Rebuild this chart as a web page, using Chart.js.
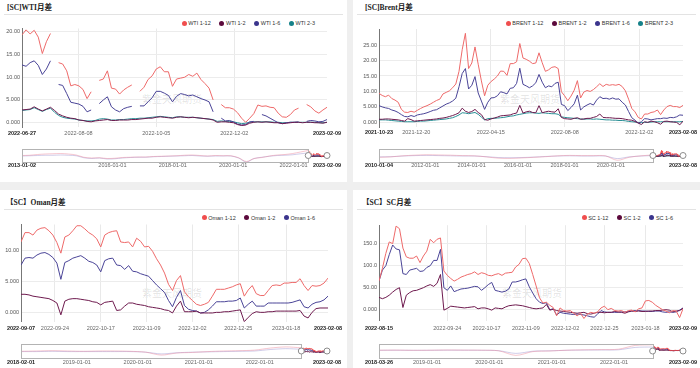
<!DOCTYPE html>
<html>
<head>
<meta charset="utf-8">
<script src="https://cdn.jsdelivr.net/npm/chart.js@4.4.0/dist/chart.umd.min.js"></script>
<style>
  html, body { margin: 0; padding: 0; width: 700px; height: 368px; overflow: hidden; background: #efefef; }
  .panel { position: absolute; background: #fff; overflow: hidden; }
  .title { position: absolute; left: 4px; right: 4px; height: 13px; line-height: 13px; border-bottom: 1px solid #e3e3e3;
           font: bold 7.5px "Liberation Serif", "Noto Sans CJK SC", serif; color: #222; white-space: nowrap; }
  .legend { position: absolute; }
  .legend ul { list-style: none; margin: 0; padding: 0; display: flex; gap: 8.7px; }
  .legend li { display: flex; align-items: center; font: 5.5px "Liberation Sans", Arial, sans-serif; color: #333; white-space: nowrap; }
  .legend-dot { width: 5px; height: 5px; border-radius: 50%; margin-right: 1.5px; }
  .wm { position: absolute; font: 10px "Noto Sans CJK SC", sans-serif; color: rgba(0,0,0,0.12); z-index: 0; }
  canvas { position: absolute; z-index: 1; }
</style>
</head>
<body>
<script>
const FONT = '"Liberation Sans", Arial, sans-serif';

// ---------- [SC]WTI ----------
const wtiTicks = ["2022-06-27", "2022-08-08", "2022-10-05", "2022-12-02", "2023-02-09"];
const wtiSliderTicks = ["2013-01-02", "2016-01-01", "2018-01-01", "2020-01-01", "2022-01-01", "2023-02-09"];
const wtiYTicks = [0, 5, 10, 15, 20];
const wtiNames = ["WTI 1-12", "WTI 1-2", "WTI 1-6", "WTI 2-3"];
const wti112 = [19.3, 20.4, 19.5, 20.3, 18.8, 15.2, 17.8, 19.6, null, 13.2,
  12.9, 11.4, 8.1, 8.4, 8.1, 7.3, 5.3, 6.8, null, 9.3,
  9.6, 11.4, 7.6, 7.4, 6.3, 7.2, 7.8, 8.3, null, 6.9,
  7.8, 9.5, 10.3, 11.8, 12.3, 11.2, 11.2, 8.0, 9.6, 9.8,
  10.0, 10.6, 10.2, 10.9, 9.5, 8.6, 7.6, 5.0, null, 4.0,
  3.3, 3.3, 3.0, 2.2, 1.0, 0.1, 1.0, 2.0, 3.9, 3.6,
  3.7, 3.4, 3.3, 2.1, 1.3, 1.2, 1.8, 2.8, 3.2, null,
  4.0, 3.5, 2.6, 2.1, 2.8, 3.4];
const wti12 = [2.8, 2.9, 3.0, 3.5, 3.0, 2.6, 3.0, 3.4, 2.7, 1.9,
  1.5, 1.2, 1.0, 0.9, 0.6, 0.5, 0.3, 0.2, 0.4, 0.5,
  0.6, 0.7, 0.5, 0.5, 0.6, 0.6, 0.6, 0.7, 0.7, 0.8,
  0.9, 1.0, 1.0, 1.2, 1.3, 1.2, 1.1, 1.0, 1.2, 1.3,
  1.2, 1.1, 1.2, 1.1, 1.0, 0.9, 0.8, 0.6, 0.1, 0.2,
  0.2, 0.1, 0.0, -0.4, -0.6, -0.5, -0.1, 0.1, 0.2, 0.1,
  0.2, 0.1, 0.0, 0.0, -0.2, -0.1, 0.0, 0.1, 0.1, 0.0,
  0.1, 0.1, 0.0, 0.0, -0.1, 0.1];
const wti16 = [12.7, 12.4, 13.2, 13.6, 12.6, 10.6, 11.8, 13.6, null, 8.4,
  8.2, 6.4, 4.5, 4.3, 4.1, 3.6, 2.4, 2.8, null, 4.2,
  5.0, 5.7, 3.5, 2.8, 2.4, 3.1, 3.4, 3.6, null, 3.7,
  3.7, 4.6, 5.5, 6.9, 6.9, 6.5, 6.0, 4.6, 5.8, 6.4,
  6.2, 5.9, 6.1, 5.7, 5.3, 5.0, 4.6, 2.4, null, 1.0,
  0.4, 0.5, 0.2, -0.3, -0.5, -0.4, 0.2, 0.3, null, 1.8,
  1.5, 1.0, 0.5, 0.0, -0.2, 0.0, 0.1, 0.1, 0.2, null,
  0.3, 0.5, 0.4, 0.2, 0.3, 0.7];
const wti23 = [2.7, 2.8, 2.9, 3.3, 2.9, 2.5, 2.9, 3.2, 2.3, 1.6,
  1.2, 1.0, 0.9, 0.8, 0.6, 0.5, 0.4, 0.4, 0.5, 0.8,
  0.9, 0.8, 0.6, 0.6, 0.7, 0.7, 0.8, 0.9, 0.9, 1.0,
  1.0, 1.1, 1.2, 1.3, 1.4, 1.3, 1.2, 1.1, 1.3, 1.3,
  1.2, 1.2, 1.2, 1.1, 1.0, 0.9, 0.8, 0.7, 0.3, 0.4,
  0.3, 0.3, 0.2, 0.0, -0.2, -0.1, 0.1, 0.2, 0.2, 0.2,
  0.2, 0.2, 0.1, 0.1, 0.0, 0.0, 0.1, 0.1, 0.1, 0.1,
  0.1, 0.1, 0.1, 0.0, 0.0, 0.1];
const wtiHist112 = [4, 5, 8, 10, 11, 12, 10, 6, -3, -6, -5, -8, -7, -4, -3, -2, -2, 0, 1, 2,
  3, 5, 6, 4, 2, 4, 3, 3, -5, -20, -8, -4, 2, 6, 8, 12, 18, 24];
const wtiHist16 = [2, 3, 4, 5, 5, 6, 5, 3, -5, -8, -6, -10, -9, -6, -4, -3, -3, -1, 0, 1,
  2, 3, 4, 2, 1, 2, 2, 2, -6, -23, -8, -3, 1, 4, 5, 7, 11, 14];

// ---------- [SC]Brent ----------
const brentTicks = ["2021-10-23", "2021-12-20", "2022-04-15", "2022-08-08", "2022-12-02", "2023-02-08"];
const brentSliderTicks = ["2010-01-04", "2012-01-01", "2014-01-01", "2016-01-01", "2018-01-01", "2020-01-01", "2023-02-08"];
const brentYTicks = [0, 5, 10, 15, 20, 25];
const brentNames = ["BRENT 1-12", "BRENT 1-2", "BRENT 1-6", "BRENT 2-3"];
const brent112 = [9.4, 8.7, 8.3, 8.8, 7.7, 7.2, 6.5, 4.2, 3.3, 3.2,
  3.6, 3.3, 3.9, 4.5, 5.0, 5.4, 5.9, 6.5, 7.1, 7.5,
  9.2, 9.7, 10.2, 11.2, 12.4, 16.5, 23.5, 28.8, 17.4, 19.2,
  24.4, 18.8, 13.4, 8.6, 12.0, 13.2, 14.0, 15.0, 16.6, 16.5,
  15.2, 19.0, 19.0, 19.6, 25.5, 20.8, 20.4, 19.8, 19.0, 19.2,
  22.5, 19.3, 16.5, 17.0, 17.8, 18.0, 17.4, 9.9, 8.6, 7.0,
  8.5, 10.4, 13.5, 7.9, 9.8, 10.3, 10.0, 10.6, 11.5, 12.5,
  11.6, 12.3, 12.0, 12.2, 12.0, 12.3, 11.6, 10.2, 7.5, 4.5,
  3.4, 1.6, 1.1, 2.7, 2.7, 3.2, 3.4, 4.0, 2.5, 4.0,
  5.1, 5.5, 5.1, 5.1, 4.8, 5.5];
const brent12 = [1.0, 1.0, 1.1, 1.1, 1.0, 0.9, 0.8, 0.6, 0.4, 1.2,
  0.9, 0.4, 0.5, 0.6, 0.7, 0.8, 0.9, 1.0, 1.1, 1.3,
  1.4, 1.6, 1.9, 2.2, 2.6, 3.1, 4.6, 3.6, 3.2, 3.5,
  4.2, 3.2, 2.5, 0.9, 0.7, 1.1, 1.4, 1.7, 2.1, 2.2,
  2.3, 2.4, 2.8, 3.0, 5.5, 3.0, 3.4, 3.6, 3.2, 3.1,
  5.4, 3.1, 3.4, 3.6, 3.4, 3.3, 4.4, 1.6, 1.2, 1.1,
  1.0, 1.3, 1.5, 1.0, 1.1, 1.3, 1.3, 1.6, 1.9, 2.7,
  1.6, 1.5, 1.5, 1.4, 1.3, 1.3, 1.2, 1.0, 0.8, 0.7,
  0.3, -0.2, -0.7, 0.2, 0.0, 0.4, 0.2, -0.1, -0.6, 0.3,
  0.4, 0.2, 0.1, 0.0, -0.8, 0.4];
const brent16 = [5.4, 5.0, 4.7, 4.5, 4.0, 3.7, 3.2, 2.5, 1.9, 1.8,
  2.2, 1.9, 2.4, 2.6, 2.8, 3.1, 3.5, 3.9, 4.1, 4.7,
  5.3, 5.9, 6.3, 6.9, 7.8, 11.5, 15.8, 17.4, 10.8, 12.0,
  14.8, 9.5, 6.9, 4.2, 6.5, 7.9, 8.0, 8.6, 9.9, 9.6,
  9.2, 11.0, 11.2, 12.6, 17.5, 12.3, 11.8, 11.2, 11.8, 12.8,
  15.5, 13.0, 11.2, 11.8, 11.5, 12.6, 13.0, 5.8, 5.4, 3.8,
  4.8, 6.0, 8.8, 4.0, 5.0, 5.6, 6.1, 5.6, 7.2, 8.3,
  7.7, 7.8, 7.5, 7.9, 7.5, 7.6, 6.5, 5.6, 3.5, 1.5,
  0.7, -0.3, 0.2, 1.2, 1.1, 0.8, 1.0, 1.2, 1.2, 1.4,
  1.3, 1.6, 1.5, 1.8, 2.4, 2.3];
const brent23 = [0.8, 0.8, 0.8, 0.7, 0.6, 0.5, 0.4, 0.3, 0.2, 0.2,
  0.2, 0.2, 0.3, 0.4, 0.4, 0.5, 0.6, 0.7, 0.8, 0.9,
  1.0, 1.1, 1.3, 1.5, 1.9, 2.4, 3.1, 3.0, 2.8, 3.0,
  3.2, 2.6, 1.7, 0.8, 1.2, 1.3, 1.3, 1.4, 1.5, 1.6,
  1.8, 2.0, 2.1, 2.4, 2.6, 2.8, 3.0, 3.1, 3.1, 3.0,
  2.9, 3.1, 3.0, 2.9, 2.8, 2.8, 2.6, 1.8, 1.6, 1.5,
  1.4, 1.3, 1.2, 1.1, 1.0, 1.1, 1.1, 1.0, 1.1, 1.0,
  0.9, 0.8, 0.8, 0.7, 0.7, 0.6, 0.6, 0.5, 0.3, 0.2,
  0.1, 0.0, -0.1, 0.0, 0.0, 0.1, 0.2, 0.2, 0.2, 0.2,
  0.2, 0.2, 0.2, 0.2, 0.2, 0.3];
const brentHist112 = [-4, -2, 3, 6, 8, 7, 6, 4, 3, -2, -8, -9, -7, -4, -1, 3, 5, 4, 4, 3, -18, -4, 3, 7];
const brentHist16 = [-2, -1, 2, 4, 5, 4, 3, 2, 2, -1, -5, -6, -5, -3, 0, 2, 3, 2, 2, 2, -10, -2, 2, 4];

// ---------- 【SC】Oman ----------
const omanTicks = ["2022-09-07", "2022-09-24", "2022-10-17", "2022-11-09", "2022-12-02", "2022-12-25", "2023-01-18", "2023-02-08"];
const omanSliderTicks = ["2018-02-01", "2019-01-01", "2020-01-01", "2021-01-01", "2022-01-01", "2023-02-08"];
const omanYTicks = [0, 5, 10];
const omanNames = ["Oman 1-12", "Oman 1-2", "Oman 1-6"];
const oman112 = [11.4, 12.9, 12.9, 12.5, 13.3, 13.6, 13.7, 13.2, 12.5, 11.3,
  9.6, 12.2, 12.5, 13.2, 14.0, 14.0, 13.5, 12.9, 12.5, 11.9,
  10.6, 12.5, 12.9, 13.1, 13.2, 11.4, 11.3, 11.4, 10.6, 12.0,
  11.5, 10.6, 10.7, 9.9, 8.7, 7.7, 6.4, 4.6, 3.6, 5.2,
  6.0, 3.4, 2.6, 2.0, 1.4, 1.2, 1.4, 1.7, 2.7, 3.8,
  3.8, 3.8, 4.0, 4.2, 4.5, 4.7, 2.7, 3.7, 4.4, 3.1,
  2.8, 2.8, 3.6, 4.4, 4.5, 4.4, 4.8, 4.8, 4.9, 4.9,
  5.5, 4.4, 3.6, 4.4, 4.3, 4.4, 4.8, 5.6];
const oman12 = [3.0, 3.0, 2.9, 2.7, 2.6, 2.5, 2.4, 2.3, 2.0, 1.6,
  -0.3, 1.9, 2.2, 2.3, 2.3, 2.2, 2.1, 2.0, 1.8, 1.7,
  1.3, 1.7, 1.8, 1.9, 0.4, 0.5, 1.1, 1.6, 1.6, 1.4,
  1.3, 1.2, 1.0, 0.9, 0.8, 0.7, 0.5, 0.4, 0.0, 1.1,
  1.9, 0.2, 0.2, 0.2, 0.3, 0.0, 0.0, 0.0, 0.0, 0.1,
  0.1, 0.2, 0.2, 0.3, 0.4, 0.5, -1.4, -0.7, -0.1, 0.2,
  0.1, 0.1, 0.2, 0.2, 0.3, 0.3, 0.3, 0.3, 0.3, 0.3,
  0.4, -0.5, -0.8, 0.1, 0.7, 0.8, 0.8, 0.8];
const oman16 = [7.7, 8.8, 8.9, 8.8, 9.3, 9.6, 9.7, 9.4, 8.9, 8.0,
  5.4, 8.1, 8.4, 8.8, 9.0, 9.2, 8.8, 8.3, 8.1, 7.7,
  6.6, 8.4, 8.7, 8.8, 7.7, 7.6, 7.0, 7.6, 6.7, 6.6,
  6.3, 6.1, 5.9, 5.2, 4.5, 3.9, 3.3, 2.0, 1.0, 2.5,
  3.6, 1.2, 0.6, 0.4, 0.3, 0.0, 0.1, 0.5, 1.1, 1.8,
  1.8, 1.8, 1.9, 1.9, 2.0, 2.4, 0.8, 1.4, 1.9, 1.1,
  1.1, 1.1, 1.6, 1.6, 1.6, 1.6, 1.6, 1.6, 1.7, 1.9,
  2.1, 1.0, 0.8, 1.4, 1.7, 1.8, 2.1, 2.7];
const omanHist112 = [3, 4, 5, 4, 3, 4, 4, 3, 0, -10, -3, -1, 2, 4, 5, 7, 14, 18, 15];
const omanHist16 = [2, 2, 3, 2, 2, 2, 2, 2, 0, -6, -2, 0, 1, 2, 3, 4, 9, 12, 10];

// ---------- 【SC】SC ----------
const scTicks = ["2022-08-15", "2022-09-24", "2022-10-17", "2022-11-09", "2022-12-02", "2022-12-25", "2023-01-18", "2023-02-09"];
const scSliderTicks = ["2018-03-26", "2019-01-01", "2020-01-01", "2021-01-01", "2022-01-01", "2023-02-09"];
const scYTicks = [0, 50, 100, 150];
const scNames = ["SC 1-12", "SC 1-2", "SC 1-6"];
const sc112 = [65, 94, 128, 154, 150, 190, 184, 140, 120, 117,
  117, 122, 107, 122, 133, 160, 152, 160, 163, 88,
  78, 71, 65, 69, 74, 77, 80, 82, 86, 80,
  84, 82, 78, 77, 80, 82, 78, 83, 84, 85,
  97, 103, 116, 117, 105, 80, 54, 27, 15, 17,
  10, 5, -14, 4, -2, -3, -2, -8, -14, -8,
  -20, -10, -6, -8, -5, 4, 8, 0, 3, -2,
  -3, -2, -6, -2, -1, -5, 2, 4, 20, 21,
  17, 10, 5, 0, -3, -7, -2, -3, -18, 2];
const sc12 = [28, 25, 28, 33, 40, 46, 50, 5, 33, 39,
  43, 44, 47, 50, 54, 57, 53, 60, 80, -1,
  3, 8, 7, 6, 5, 4, 5, 6, 7, 2,
  4, 4, 2, -1, 4, 3, 2, 6, 9, 10,
  11, 10, 9, 7, 5, 3, 2, 3, 4, 12,
  -1, 1, -2, -3, -4, -5, -6, -7, -8, -7,
  -6, -9, -10, -8, -6, -6, -7, -6, -6, -4,
  -5, -6, -8, -5, -3, -4, -3, -4, -4, -3,
  -3, -2, -2, -1, 0, -1, -5, -3, -2, 3];
const sc16 = [65, 90, 100, 125, 147, 138, 136, 82, 80, 90,
  92, 94, 87, 88, 96, 100, 112, 112, 137, 50,
  44, 54, 41, 44, 47, 48, 49, 51, 53, 52,
  44, 50, 57, 62, 44, 42, 40, 42, 47, 63,
  63, 65, 68, 70, 52, 38, 25, 17, 14, 16,
  0, 2, -12, -6, -8, -9, -10, -11, -10, -11,
  -12, -14, -16, -17, -10, -2, -5, -6, -6, -6,
  -6, -5, -5, -4, -3, -2, -2, -3, -3, -4,
  -4, -3, -3, -5, -6, -5, -6, -5, -1, 4];
const scHist112 = [10, 15, 5, 10, 20, 15, 10, -20, -250, -60, -30, 10, 30, 40, 60, 250, 280];
const scHist16 = [5, 8, 3, 5, 10, 8, 5, -15, -150, -40, -20, 5, 15, 20, 30, 150, 170];

// cores: 1-12, 1-2, 1-6, 2-3
const lineColors = ["#ee6a6a", "#6e1a4e", "#4a4497", "#2a8f95"];
const dotColors = ["#f04e4e", "#5c0a3c", "#3b358d", "#158189"];
const shadowColors = ["rgba(235,130,150,0.45)", "rgba(140,130,200,0.4)"];

function day(s) {
  const [y, m, d] = s.split("-").map(Number);
  return Date.UTC(y, m - 1, d) / 864e5;
}

// pontos igualmente espacados entre duas datas (como num eixo de categorias)
function spread(values, from, to) {
  const a = day(from), b = day(to);
  return values.map((v, i) => ({ x: a + (i * (b - a)) / (values.length - 1), y: v }));
}

function fmtY(v) {
  return v === 0 ? "0.000" : v.toPrecision(4);
}

const htmlLegendPlugin = {
  id: "htmlLegend",
  afterUpdate(chart, args, options) {
    const legendContainer = document.getElementById(options.containerID);
    if (!legendContainer) return;
    let listContainer = legendContainer.querySelector("ul");
    if (!listContainer) {
      listContainer = document.createElement("ul");
      legendContainer.appendChild(listContainer);
    }
    while (listContainer.firstChild) listContainer.firstChild.remove();

    const items = chart.options.plugins.legend.labels.generateLabels(chart);
    items.forEach((item) => {
      const li = document.createElement("li");
      const dot = document.createElement("span");
      dot.className = "legend-dot";
      dot.style.background = item.fillStyle;
      const text = document.createElement("span");
      text.appendChild(document.createTextNode(item.text));
      li.appendChild(dot);
      li.appendChild(text);
      listContainer.appendChild(li);
    });
  },
};

const sliderFrame = {
  id: "sliderFrame",
  afterDatasetsDraw(chart, args, opts) {
    const { ctx, chartArea, scales } = chart;
    const x0 = scales.x.getPixelForValue(opts.from);
    const x1 = scales.x.getPixelForValue(opts.to);
    const x2 = scales.x.getPixelForValue(opts.end);
    const mid = (chartArea.top + chartArea.bottom) / 2;
    ctx.save();
    ctx.strokeStyle = "#b3b3b3";
    ctx.lineWidth = 1;
    ctx.strokeRect(Math.round(x0) + 0.5, Math.round(chartArea.top) + 0.5,
      Math.round(x1 - x0), Math.round(chartArea.bottom - chartArea.top));
    [x1, x2].forEach((px) => {
      ctx.beginPath();
      ctx.arc(px, mid, 3, 0, Math.PI * 2);
      ctx.fillStyle = "#fff";
      ctx.fill();
      ctx.strokeStyle = "#8c8c8c";
      ctx.stroke();
    });
    ctx.restore();
  },
};

const panels = [
  { id: "wti", box: [0, 0, 347, 182], title: "[SC]WTI月差", titleTop: 1, titleLeft: 3,
    legendTop: 20, legendRight: 32, wm: [142, 91],
    names: wtiNames, series: [wti112, wti12, wti16, wti23], colorIdx: [0, 1, 2, 3],
    start: "2022-06-27", end: "2023-02-09", xTicks: wtiTicks, yTicks: wtiYTicks, yMin: -1, yMax: 20.7,
    main: { top: 24, h: 116, padTop: 4.5, xH: 12.7, yW: 22, padR: 20, labelPad: 2.4 },
    slider: { top: 145, h: 27, padTop: 4, xH: 10, padL: 22, padR: 20, labelPad: 0.5,
      from: "2013-01-02", ticks: wtiSliderTicks, hist: [wtiHist112, wtiHist16], yMin: -22, yMax: 30 } },
  { id: "brent", box: [353, 0, 347, 182], title: "[SC]Brent月差", titleTop: 1, titleLeft: 8,
    legendTop: 20, legendRight: 27, wm: [147, 91],
    names: brentNames, series: [brent112, brent12, brent16, brent23], colorIdx: [0, 1, 2, 3],
    start: "2021-10-23", end: "2023-02-08", xTicks: brentTicks, yTicks: brentYTicks, yMin: -1.5, yMax: 30.2,
    main: { top: 24, h: 116, padTop: 5, xH: 13, yW: 26, padR: 17, labelPad: 2.3 },
    slider: { top: 145, h: 27, padTop: 4, xH: 10, padL: 26, padR: 17, labelPad: 0.5,
      from: "2010-01-04", ticks: brentSliderTicks, hist: [brentHist112, brentHist16], yMin: -26, yMax: 35 } },
  { id: "oman", box: [0, 190, 347, 178], title: "【SC】Oman月差", titleTop: 5.5, titleLeft: 2,
    legendTop: 24.5, legendRight: 32, wm: [142, 95],
    names: omanNames, series: [oman112, oman12, oman16], colorIdx: [0, 1, 2],
    start: "2022-09-07", end: "2023-02-08", xTicks: omanTicks, yTicks: omanYTicks, yMin: -1.4, yMax: 14.2,
    main: { top: 30, h: 113, padTop: 4.5, xH: 11.3, yW: 21, padR: 19, labelPad: 3.3 },
    slider: { top: 150, h: 28, padTop: 4, xH: 10, padL: 21, padR: 20, labelPad: 0.7,
      from: "2018-02-01", ticks: omanSliderTicks, hist: [omanHist112, omanHist16], yMin: -20, yMax: 28 } },
  { id: "sc", box: [353, 190, 347, 178], title: "【SC】SC月差", titleTop: 5.5, titleLeft: 5,
    legendTop: 24.5, legendRight: 27, wm: [149, 95],
    names: scNames, series: [sc112, sc12, sc16], colorIdx: [0, 1, 2],
    start: "2022-08-15", end: "2023-02-09", xTicks: scTicks, yTicks: scYTicks, yMin: -25, yMax: 192,
    main: { top: 30, h: 113, padTop: 5.2, xH: 12.3, yW: 26, padR: 17, labelPad: 4.3 },
    slider: { top: 150, h: 28, padTop: 4, xH: 10, padL: 26, padR: 17, labelPad: 0.7,
      from: "2018-03-26", ticks: scSliderTicks, hist: [scHist112, scHist16], yMin: -380, yMax: 320 } },
];

function edgeFont(list) {
  return (c) => ({ family: FONT, size: 5.5, weight: c.index === 0 || c.index === list.length - 1 ? "bold" : "normal" });
}
function edgeColor(list) {
  return (c) => (c.index === 0 || c.index === list.length - 1 ? "#222" : "#666");
}

function montarPainel(p) {
  const [left, top, w, h] = p.box;
  const div = document.createElement("div");
  div.className = "panel";
  Object.assign(div.style, { left: left + "px", top: top + "px", width: w + "px", height: h + "px" });
  div.innerHTML = `
    <div class="title" style="top:${p.titleTop}px;padding-left:${p.titleLeft}px">${p.title}</div>
    <div class="legend" id="legend-${p.id}" style="top:${p.legendTop}px;right:${p.legendRight}px"></div>
    <div class="wm" style="left:${p.wm[0]}px;top:${p.wm[1]}px">紫金天风期货</div>
    <canvas id="main-${p.id}" width="${w}" height="${p.main.h}" style="left:0;top:${p.main.top}px"></canvas>
    <canvas id="slider-${p.id}" width="${w}" height="${p.slider.h}" style="left:0;top:${p.slider.top}px"></canvas>`;
  document.body.appendChild(div);

  const m = p.main;
  new Chart(document.getElementById("main-" + p.id).getContext("2d"), {
    type: "line",
    plugins: [htmlLegendPlugin],
    data: {
      datasets: p.series.map((s, k) => ({
        label: p.names[k],
        data: spread(s, p.start, p.end),
        borderColor: lineColors[p.colorIdx[k]],
        backgroundColor: dotColors[p.colorIdx[k]],
        borderWidth: 1,
        pointRadius: 0,
        tension: 0,
        spanGaps: false,
      })),
    },
    options: {
      responsive: false,
      animation: false,
      events: [],
      layout: { padding: { top: m.padTop, right: m.padR, left: 0, bottom: 0 } },
      plugins: {
        htmlLegend: { containerID: "legend-" + p.id },
        legend: { display: false },
        tooltip: { enabled: false },
      },
      scales: {
        x: {
          type: "linear",
          min: day(p.start),
          max: day(p.end),
          afterBuildTicks: (ax) => { ax.ticks = p.xTicks.map((t) => ({ value: day(t) })); },
          afterFit: (ax) => { ax.height = m.xH; ax.paddingLeft = 0; ax.paddingRight = 0; },
          ticks: {
            autoSkip: false, maxRotation: 0, minRotation: 0, padding: m.labelPad,
            callback: (v, i) => p.xTicks[i],
            font: edgeFont(p.xTicks),
            color: edgeColor(p.xTicks),
          },
          grid: {
            drawTicks: false,
            color: (c) => (c.index === 0 || c.index === p.xTicks.length - 1 ? "rgba(0,0,0,0)" : "#e9e9e9"),
          },
          border: { display: false },
        },
        y: {
          min: p.yMin,
          max: p.yMax,
          afterBuildTicks: (ax) => { ax.ticks = p.yTicks.map((v) => ({ value: v })); },
          afterFit: (ax) => { ax.width = m.yW; ax.paddingTop = 0; ax.paddingBottom = 0; },
          ticks: { padding: 2, callback: (v) => fmtY(v), font: { family: FONT, size: 5.5 }, color: "#555" },
          grid: { drawTicks: false, color: "#ececec" },
          border: { display: true, color: "#777", width: 1 },
        },
      },
    },
  });

  const s = p.slider;
  new Chart(document.getElementById("slider-" + p.id).getContext("2d"), {
    type: "line",
    plugins: [sliderFrame],
    data: {
      datasets: [
        ...s.hist.map((hv, k) => ({
          data: spread(hv, s.from, p.start),
          borderColor: shadowColors[k],
          borderWidth: 1,
          pointRadius: 0,
          tension: 0.3,
        })),
        ...p.series.map((sv, k) => ({
          data: spread(sv, p.start, p.end),
          borderColor: dotColors[p.colorIdx[k]],
          borderWidth: 1,
          pointRadius: 0,
          tension: 0,
        })),
      ],
    },
    options: {
      responsive: false,
      animation: false,
      events: [],
      layout: { padding: { top: s.padTop, left: s.padL, right: s.padR, bottom: 0 } },
      plugins: {
        legend: { display: false },
        tooltip: { enabled: false },
        sliderFrame: { from: day(s.from), to: day(p.start), end: day(p.end) },
      },
      scales: {
        x: {
          type: "linear",
          min: day(s.from),
          max: day(p.end),
          afterBuildTicks: (ax) => { ax.ticks = s.ticks.map((t) => ({ value: day(t) })); },
          afterFit: (ax) => { ax.height = s.xH; ax.paddingLeft = 0; ax.paddingRight = 0; },
          ticks: {
            autoSkip: false, maxRotation: 0, minRotation: 0, padding: s.labelPad,
            callback: (v, i) => s.ticks[i],
            font: edgeFont(s.ticks),
            color: edgeColor(s.ticks),
          },
          grid: { display: false, drawTicks: false },
          border: { display: false },
        },
        y: { display: false, min: s.yMin, max: s.yMax },
      },
    },
  });
}

panels.forEach(montarPainel);
</script>
</body>
</html>
